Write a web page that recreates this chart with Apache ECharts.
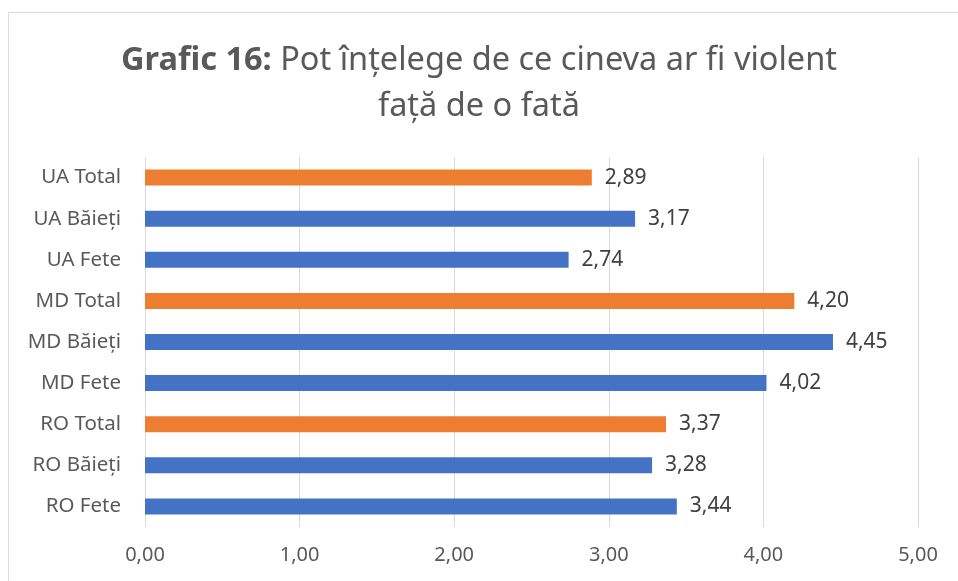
<!DOCTYPE html>
<html>
<head>
<meta charset="utf-8">
<script src="https://cdn.jsdelivr.net/npm/echarts@6/dist/echarts.min.js"></script>
<style>
  html, body { margin: 0; padding: 0; background: #fff; }
  #chart { width: 958px; height: 581px; }
</style>
</head>
<body>
<div id="chart"></div>
<script>
const categories = [
  "RO Fete", "RO Băieți", "RO Total",
  "MD Fete", "MD Băieți", "MD Total",
  "UA Fete", "UA Băieți", "UA Total",
];
const values = [3.44, 3.28, 3.37, 4.02, 4.45, 4.20, 2.74, 3.17, 2.89];
const isTotal = [false, false, true, false, false, true, false, false, true];

const BLUE = "#4472C4";
const ORANGE = "#ED7D31";
const FONT = "Noto Sans";

const fmt = (v) => Number(v).toFixed(2).replace(".", ",");

const chart = echarts.init(document.getElementById("chart"));

chart.setOption({
  animation: false,
  graphic: [
    {
      type: "rect",
      shape: { x: 8.5, y: 12.5, width: 1000, height: 1000 },
      style: { fill: "none", stroke: "#d9d9d9", lineWidth: 1 },
      silent: true,
    },
  ],
  title: {
    left: "center",
    top: 33,
    text: "{b|Grafic 16:} Pot înțelege de ce cineva ar fi violent\nfață de o fată",
    textStyle: {
      fontFamily: FONT,
      fontSize: 32.5,
      fontWeight: "normal",
      color: "#595959",
      lineHeight: 46,
      rich: {
        b: {
          fontFamily: FONT,
          fontSize: 32.5,
          fontWeight: "bold",
          color: "#595959",
          lineHeight: 46,
        },
      },
    },
  },
  grid: {
    left: 145,
    right: 40,
    top: 157,
    bottom: 54,
    containLabel: false,
  },
  xAxis: {
    type: "value",
    min: 0,
    max: 5,
    interval: 1,
    axisLine: { show: false },
    axisTick: { show: false },
    splitLine: { lineStyle: { color: "#d9d9d9", width: 1 } },
    axisLabel: {
      formatter: fmt,
      fontFamily: FONT,
      fontSize: 20,
      color: "#595959",
      margin: 18,
    },
  },
  yAxis: {
    type: "category",
    data: categories,
    axisLine: { show: false },
    axisTick: { show: false },
    axisLabel: {
      fontFamily: FONT,
      fontSize: 20.5,
      color: "#595959",
      margin: 24,
    },
  },
  series: [
    {
      type: "bar",
      barWidth: 16,
      data: values.map((v, i) => ({
        value: v,
        itemStyle: { color: isTotal[i] ? ORANGE : BLUE },
      })),
      label: {
        show: true,
        position: "right",
        distance: 13,
        formatter: (p) => fmt(p.value),
        fontFamily: FONT,
        fontSize: 21,
        color: "#404040",
      },
    },
  ],
});
</script>
</body>
</html>
